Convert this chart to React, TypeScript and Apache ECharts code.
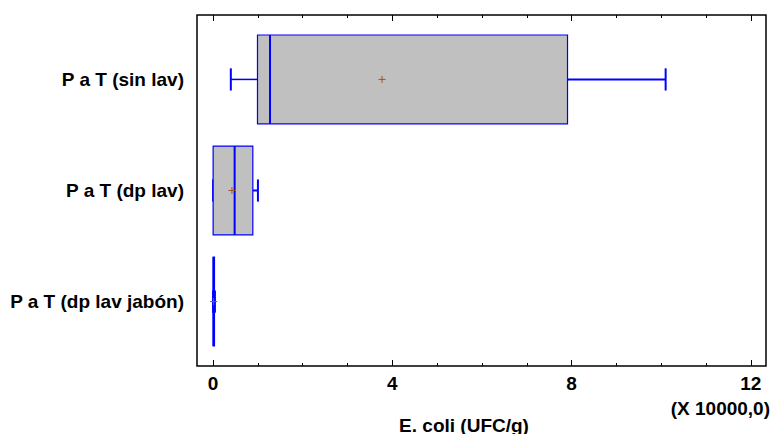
import React, { useEffect, useRef } from "react";
import * as echarts from "echarts";

const categories = ["P a T (dp lav jabón)", "P a T (dp lav)", "P a T (sin lav)"];
// [min, q1, median, q3, max, mean] in units of 10000 UFC/g
const boxStats = [
  [0.0, 0.0, 0.01, 0.03, 0.04, 0.01],
  [0.0, 0.0, 0.48, 0.886, 1.0, 0.42],
  [0.395, 0.99, 1.27, 7.91, 10.1, 3.77],
];
const majorTicks = [0, 4, 8, 12];
const minorTicks = [0, 1, 2, 3, 4, 5, 6, 7, 8, 9, 10, 11, 12];
const xTitle = "E. coli (UFC/g)";
const xScale = "(X 10000,0)";

const FONT = "'Liberation Sans', Arial, sans-serif";
const BLUE = "#0000FF";
const FS = 19;

export default function App() {
  const ref = useRef<HTMLDivElement>(null);
  useEffect(() => {
    document.body.style.margin = "0";
    const chart = echarts.init(ref.current!, null, { renderer: "svg" });
    const data = boxStats.map((s, i) => [i, ...s]);
    const xBase = {
      type: "value" as const,
      min: -0.36,
      max: 12.34,
      axisLine: { show: false, onZero: false },
      splitLine: { show: false },
    };
    chart.setOption({
      animation: false,
      backgroundColor: "#fff",
      grid: {
        left: 197,
        right: 8,
        top: 15,
        bottom: 68,
        show: true,
        borderColor: "#000",
        borderWidth: 1.5,
        backgroundColor: "transparent",
      },
      xAxis: [
        {
          ...xBase,
          position: "bottom",
          axisTick: { show: true, inside: true, length: 3, customValues: minorTicks, lineStyle: { color: "#000", width: 1 } },
          axisLabel: { show: false },
        },
        {
          ...xBase,
          position: "bottom",
          axisTick: { show: true, inside: true, length: 6, customValues: majorTicks, lineStyle: { color: "#000", width: 1 } },
          axisLabel: {
            show: true,
            customValues: majorTicks,
            margin: 8,
            fontFamily: FONT,
            fontWeight: "bold",
            fontSize: FS,
            color: "#000",
          },
        },
        {
          ...xBase,
          position: "top",
          axisTick: { show: true, inside: true, length: 3, customValues: minorTicks, lineStyle: { color: "#000", width: 1 } },
          axisLabel: { show: false },
        },
        {
          ...xBase,
          position: "top",
          axisTick: { show: true, inside: true, length: 6, customValues: majorTicks, lineStyle: { color: "#000", width: 1 } },
          axisLabel: { show: false },
        },
      ],
      yAxis: {
        type: "value",
        min: -0.58,
        max: 2.58,
        axisLine: { show: false, onZero: false },
        axisTick: { show: false },
        splitLine: { show: false },
        axisLabel: {
          show: true,
          customValues: [0, 1, 2],
          formatter: (v: number) => categories[Math.round(v)] ?? "",
          margin: 13,
          fontFamily: FONT,
          fontWeight: "bold",
          fontSize: FS,
          color: "#000",
        },
      },
      series: [
        {
          type: "custom",
          xAxisIndex: 1,
          yAxisIndex: 0,
          data,
          encode: { x: [1, 2, 3, 4, 5, 6], y: 0 },
          renderItem: (params: any, api: any) => {
            const cy = api.value(0);
            const px = (k: number) => api.coord([api.value(k), cy])[0];
            const yc = api.coord([0, cy])[1];
            const h = api.size([0, 0.8])[1];
            const cap = api.size([0, 0.2])[1];
            const xMin = px(1), xQ1 = px(2), xMed = px(3), xQ3 = px(4), xMax = px(5), xMean = px(6);
            const ls = (w: number) => ({ stroke: BLUE, lineWidth: w, fill: null });
            return {
              type: "group",
              children: [
                { type: "line", shape: { x1: xMin, y1: yc, x2: xQ1, y2: yc }, style: ls(1.5) },
                { type: "line", shape: { x1: xQ3, y1: yc, x2: xMax, y2: yc }, style: ls(2) },
                { type: "line", shape: { x1: xMin, y1: yc - cap / 2, x2: xMin, y2: yc + cap / 2 }, style: ls(2) },
                { type: "line", shape: { x1: xMax, y1: yc - cap / 2, x2: xMax, y2: yc + cap / 2 }, style: ls(2) },
                {
                  type: "rect",
                  shape: { x: xQ1, y: yc - h / 2, width: Math.max(xQ3 - xQ1, 0.5), height: h },
                  style: { fill: "#C0C0C0", stroke: BLUE, lineWidth: 1.2 },
                },
                { type: "line", shape: { x1: xMed, y1: yc - h / 2, x2: xMed, y2: yc + h / 2 }, style: ls(2) },
                { type: "line", shape: { x1: xMean - 3.5, y1: yc, x2: xMean + 3.5, y2: yc }, style: { stroke: "#A0522D", lineWidth: 1 } },
                { type: "line", shape: { x1: xMean, y1: yc - 3.5, x2: xMean, y2: yc + 3.5 }, style: { stroke: "#A0522D", lineWidth: 1 } },
              ],
            };
          },
        },
      ],
      graphic: [
        {
          type: "text",
          right: 4,
          top: 399,
          style: { text: xScale, font: `bold ${FS}px ${FONT}`, fill: "#000" },
        },
        {
          type: "text",
          x: 464,
          y: 425,
          style: {
            text: xTitle,
            font: `bold ${FS}px ${FONT}`,
            fill: "#000",
            textAlign: "center",
            textVerticalAlign: "middle",
          },
        },
      ],
    });
    return () => chart.dispose();
  }, []);
  return <div ref={ref} style={{ width: 774, height: 434 }} />;
}
